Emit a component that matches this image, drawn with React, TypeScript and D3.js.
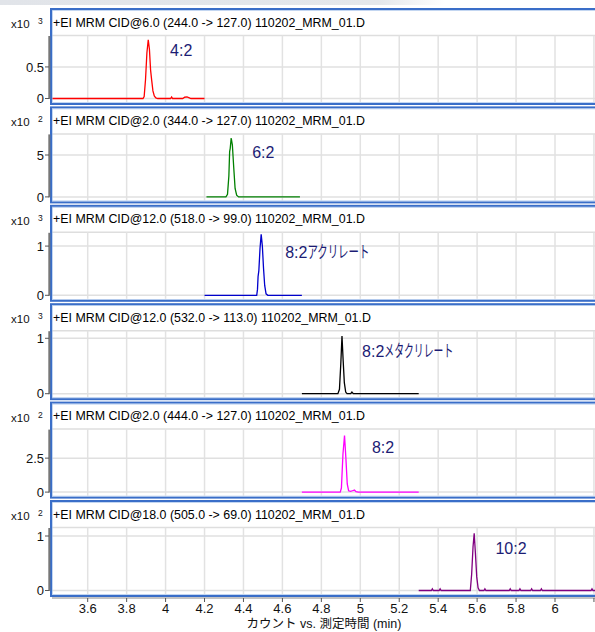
import React from "react";
import * as d3 from "d3";

const titles = [
  "+EI MRM CID@6.0 (244.0 -> 127.0) 110202_MRM_01.D",
  "+EI MRM CID@2.0 (344.0 -> 127.0) 110202_MRM_01.D",
  "+EI MRM CID@12.0 (518.0 -> 99.0) 110202_MRM_01.D",
  "+EI MRM CID@12.0 (532.0 -> 113.0) 110202_MRM_01.D",
  "+EI MRM CID@2.0 (444.0 -> 127.0) 110202_MRM_01.D",
  "+EI MRM CID@18.0 (505.0 -> 69.0) 110202_MRM_01.D",
];
const labelHeads = ["4:2", "6:2", "8:2", "8:2", "8:2", "10:2"];
const labelTails = ["", "", "アクリレート", "メタクリレート", "", ""];
const labelTimes = [4.023, 4.445, 4.614, 5.009, 5.06, 5.694];
const labelValues = [0.68, 4.64, 0.76, 0.66, 2.87, 0.67];
const tailWidths = [0, 0, 62, 69, 0, 0];
const exponents = ["3", "2", "3", "3", "2", "2"];
const yMaxes = [0.99, 7.46, 1.27, 1.128, 4.6, 1.147];
const yTicks = [[0, 0.5], [0, 5], [0, 1], [0, 1], [0, 2.5], [0, 1]];
const colors = ["#ff0000", "#008000", "#0000cc", "#000000", "#ff00ff", "#800080"];
const xTicks = [3.6, 3.8, 4, 4.2, 4.4, 4.6, 4.8, 5, 5.2, 5.4, 5.6, 5.8, 6, 6.2];
const xTickLabels = ["3.6", "3.8", "4", "4.2", "4.4", "4.6", "4.8", "5", "5.2", "5.4", "5.6", "5.8", "6", ""];
const xAxisTitle = "カウント vs. 測定時間 (min)";

const trace42: [number, number][] = [
  [3.414, 0], [3.884, 0], [3.89, 0.03], [3.897, 0.3], [3.904, 0.72], [3.911, 0.93], [3.917, 0.78],
  [3.923, 0.45], [3.929, 0.28], [3.935, 0.12], [3.942, 0.04], [3.95, 0.01], [3.96, 0],
  [4.026, 0], [4.031, 0.025], [4.036, 0], [4.088, 0], [4.098, 0.02], [4.11, 0.025], [4.122, 0.01], [4.13, 0], [4.2, 0],
];
const trace62: [number, number][] = [
  [4.21, 0], [4.31, 0], [4.318, 0.3], [4.325, 2.5], [4.329, 5.4], [4.332, 5.8], [4.337, 7.03],
  [4.343, 6.2], [4.35, 3.5], [4.357, 1.0], [4.365, 0.2], [4.375, 0], [4.69, 0],
];
const trace82a: [number, number][] = [
  [4.2, 0], [4.468, 0], [4.472, 0.12], [4.475, 0.38], [4.479, 0.5], [4.485, 0.95], [4.491, 1.24],
  [4.497, 1.0], [4.503, 0.55], [4.509, 0.2], [4.516, 0.03], [4.525, 0], [4.7, 0],
];
const trace82m: [number, number][] = [
  [4.7, 0], [4.885, 0], [4.893, 0.08], [4.9, 0.55], [4.906, 1.04], [4.912, 0.6], [4.918, 0.2],
  [4.925, 0.03], [4.932, 0], [4.951, 0], [4.957, 0.03], [4.964, 0], [5.3, 0],
];
const trace82: [number, number][] = [
  [4.7, 0], [4.897, 0], [4.903, 0.3], [4.911, 2.8], [4.919, 4.17], [4.926, 2.5], [4.933, 0.6],
  [4.94, 0.1], [4.95, 0.05], [4.96, 0.1], [4.97, 0.15], [4.978, 0.03], [4.99, 0], [5.3, 0],
];
const trace102: [number, number][] = [
  [5.3, 0], [5.365, 0], [5.37, 0.03], [5.375, 0], [5.405, 0], [5.41, 0.03], [5.415, 0],
  [5.565, 0], [5.572, 0.3], [5.579, 0.8], [5.585, 1.05], [5.591, 0.7], [5.598, 0.25], [5.605, 0.05],
  [5.612, 0], [5.635, 0], [5.64, 0.03], [5.645, 0], [5.765, 0], [5.77, 0.03], [5.775, 0],
  [5.815, 0], [5.82, 0.03], [5.825, 0], [5.875, 0], [5.88, 0.03], [5.885, 0], [5.925, 0],
  [5.93, 0.03], [5.935, 0], [6.185, 0], [6.19, 0.03], [6.195, 0], [6.25, 0],
];
const traces = [trace42, trace62, trace82a, trace82m, trace82, trace102];

const W = 595;
const H = 632;
const panelLeft = 51;
const panelTop0 = 9;
const panelStep = 98.4;
const panelH = 95;
const FONT = "'Liberation Sans', Arial, 'Noto Sans CJK JP', sans-serif";
const JFONT = "'Noto Sans CJK JP', 'Liberation Sans', sans-serif";

export default function App() {
  const x = d3.scaleLinear().domain([3.6, 6.0]).range([87.7, 555]);
  const plotL = 52;
  const plotR = W + 5;

  return (
    <svg width={W} height={H} style={{ position: "absolute", left: 0, top: 0, background: "#fff" }}>
      <defs>
        <linearGradient id="topband" x1="0" x2="1" y1="0" y2="0">
          <stop offset="0%" stopColor="#e1e4e9" />
          <stop offset="85%" stopColor="#e4e7eb" />
          <stop offset="100%" stopColor="#ffffff" />
        </linearGradient>
        <clipPath id="plotclip">
          <rect x={plotL} y={0} width={W} height={H} />
        </clipPath>
      </defs>
      <rect x={0} y={0} width={445} height={5} fill="url(#topband)" />
      {titles.map((title, i) => {
        const T = panelTop0 + i * panelStep;
        const y = d3.scaleLinear().domain([0, yMaxes[i]]).range([T + 89.5, T + 27]);
        const line = d3
          .line<[number, number]>()
          .x((d) => x(d[0]))
          .y((d) => y(d[1]));
        const tw = tailWidths[i];
        return (
          <g key={i}>
            {/* grid */}
            <line x1={plotL} x2={plotR} y1={T + 26.5} y2={T + 26.5} stroke="#dedede" strokeWidth={1.5} />
            {xTicks.map((t, k) => (
              <line key={k} x1={x(t)} x2={x(t)} y1={T + 26.5} y2={T + 93} stroke="#e2e2e2" strokeWidth={1.5} />
            ))}
            {yTicks[i].map((v, k) => (
              <line key={k} x1={plotL} x2={plotR} y1={y(v)} y2={y(v)} stroke="#e0e0e0" strokeWidth={1.5} />
            ))}
            {/* trace */}
            <path d={line(traces[i]) || ""} fill="none" stroke={colors[i]} strokeWidth={1.3} clipPath="url(#plotclip)" />
            {/* label */}
            <text x={x(labelTimes[i])} y={y(labelValues[i])} fontFamily={FONT} fontSize={16} fill="#1c1c74">
              <tspan>{labelHeads[i]}</tspan>
              {tw ? (
                <tspan fontFamily={JFONT} fontSize={16.5} textLength={tw} lengthAdjust="spacingAndGlyphs">
                  {labelTails[i]}
                </tspan>
              ) : null}
            </text>
            {/* frame */}
            <rect x={panelLeft} y={T} width={W + 10} height={panelH} fill="none" stroke="#3a6ec8" strokeWidth={2} />
            <rect x={panelLeft + 1.5} y={T + 1.5} width={W + 10} height={panelH - 3} fill="none" stroke="#9bbbe8" strokeWidth={0.6} />
            {/* title */}
            <text x={53} y={T + 17.5} fontFamily={FONT} fontSize={12.4} fill="#000">
              {title}
            </text>
            {/* y axis */}
            <line x1={49.3} x2={49.3} y1={T + 27} y2={T + 90} stroke="#777" strokeWidth={2} />
            {yTicks[i].map((v, k) => (
              <g key={k}>
                <line x1={45} x2={49} y1={y(v)} y2={y(v)} stroke="#555" strokeWidth={1} />
                <text x={44} y={y(v)} dy="0.36em" textAnchor="end" fontFamily={FONT} fontSize={13} fill="#111">
                  {v}
                </text>
              </g>
            ))}
            <text x={11} y={T + 19} fontFamily={FONT} fontSize={11.5} fill="#111">
              x10
            </text>
            <text x={38} y={T + 15} fontFamily={FONT} fontSize={8.5} fill="#111">
              {exponents[i]}
            </text>
          </g>
        );
      })}
      {/* x axis */}
      <line x1={plotL} x2={W} y1={598} y2={598} stroke="#888" strokeWidth={1} />
      {xTicks.map((t, k) => (
        <g key={k}>
          <line x1={x(t)} x2={x(t)} y1={598} y2={602} stroke="#555" strokeWidth={1} />
          <text x={x(t)} y={613} textAnchor="middle" fontFamily={FONT} fontSize={13} fill="#111">
            {xTickLabels[k]}
          </text>
        </g>
      ))}
      <text x={324} y={628} textAnchor="middle" fontFamily={FONT} fontSize={12.5} fill="#111">
        {xAxisTitle}
      </text>
    </svg>
  );
}
